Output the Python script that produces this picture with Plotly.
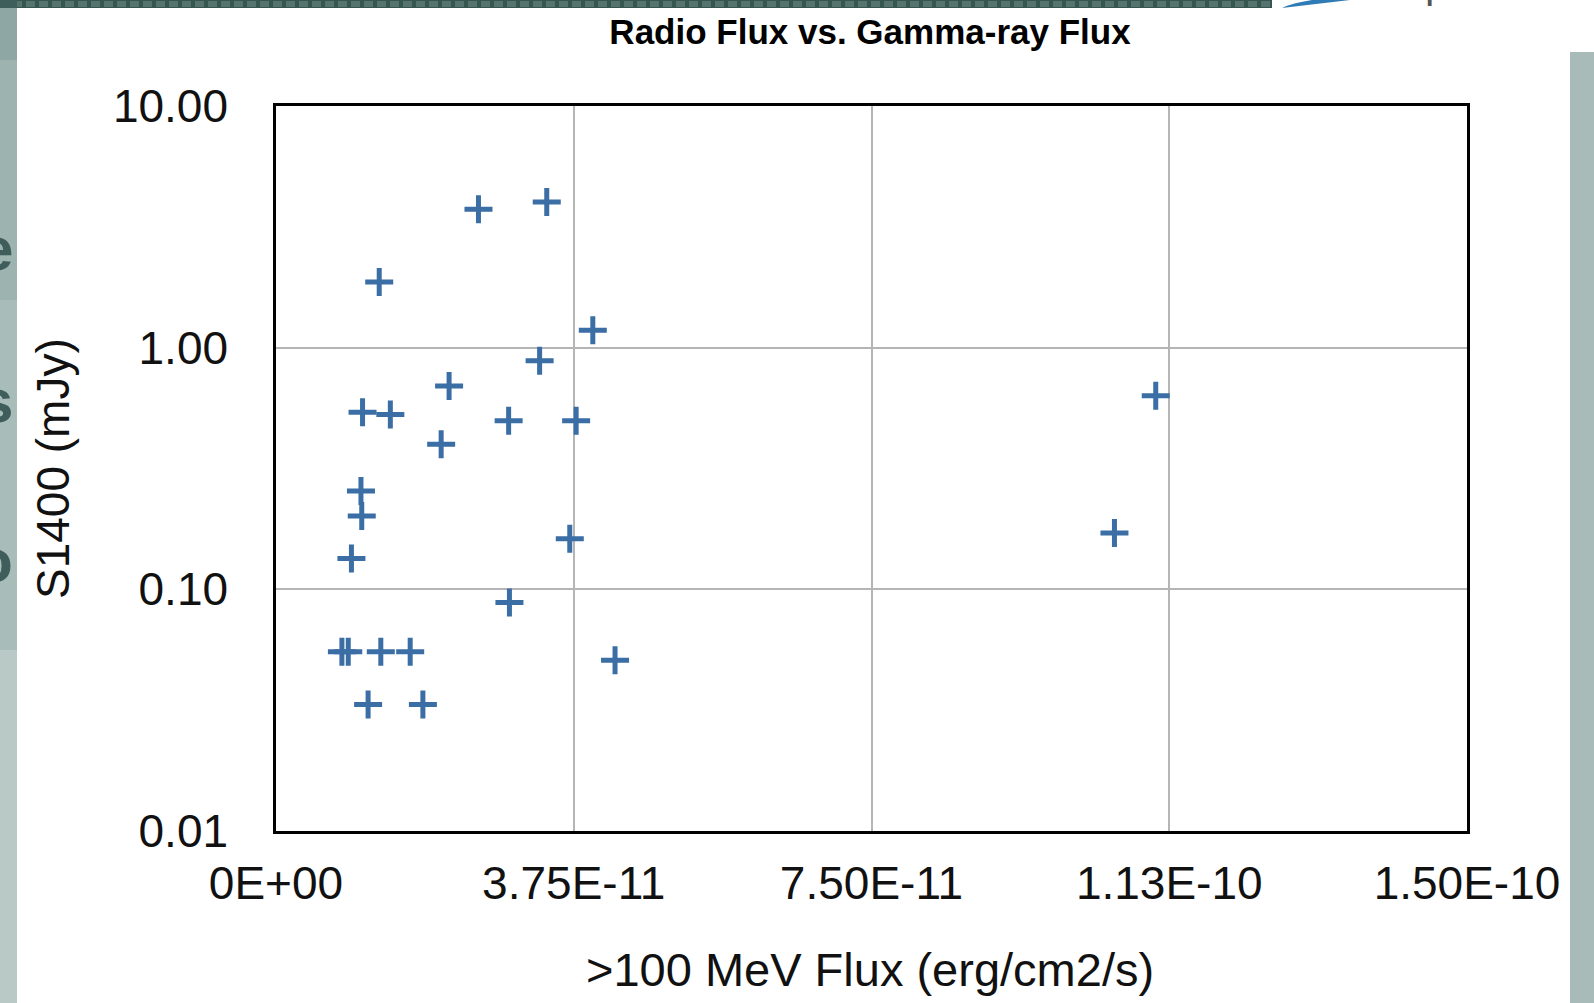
import plotly.graph_objects as go

# Gamma-ray flux above 100 MeV (erg/cm2/s) and 1.4 GHz radio flux density (mJy)
gamma_flux = [
    2.55e-11, 3.41e-11, 1.30e-11, 3.99e-11, 3.32e-11,
    2.18e-11, 1.09e-11, 1.44e-11, 2.93e-11, 3.78e-11,
    2.08e-11, 1.108e-10, 1.07e-11, 1.08e-11, 9.5e-12,
    3.70e-11, 1.056e-10, 2.94e-11, 8.3e-12, 9.1e-12,
    1.32e-11, 1.69e-11, 4.27e-11, 1.16e-11, 1.85e-11,
]
s1400 = [
    3.74, 4.01, 1.87, 1.18, 0.882,
    0.694, 0.541, 0.529, 0.498, 0.498,
    0.398, 0.633, 0.255, 0.201, 0.134,
    0.162, 0.171, 0.0882, 0.0552, 0.0552,
    0.0552, 0.0552, 0.0509, 0.0334, 0.0334,
]

x_tickvals = [0, 3.75e-11, 7.5e-11, 1.125e-10, 1.5e-10]
x_ticktext = ["0E+00", "3.75E-11", "7.50E-11", "1.13E-10", "1.50E-10"]
y_tickvals = [0.01, 0.1, 1, 10]
y_ticktext = ["0.01", "0.10", "1.00", "10.00"]

W, H = 1594, 1003
ML, MR, MT, MB = 276, 127, 106, 172
PW, PH = W - ML - MR, H - MT - MB
FONT = "Liberation Sans, Arial, Helvetica, sans-serif"


def px(xp):
    return (xp - ML) / PW


def py(yp):
    return (H - MB - yp) / PH


fig = go.Figure()
fig.add_trace(go.Scatter(
    x=gamma_flux, y=s1400, mode="markers",
    marker=dict(symbol="cross-thin", size=20, color="#3b6ea5",
                line=dict(width=5, color="#3b6ea5")),
    hoverinfo="skip", showlegend=False,
))

shapes = []
# slide frame around the chart: top band, left and right side panels
shapes.append(dict(type="rect", xref="paper", yref="paper", layer="below",
                   x0=px(0), x1=px(1272), y0=py(0), y1=py(8),
                   fillcolor="#35554f", line_width=0))
shapes.append(dict(type="line", xref="paper", yref="paper", layer="below",
                   x0=px(0), x1=px(1272), y0=py(4), y1=py(4),
                   line=dict(color="#56736f", width=6, dash="9px,4px")))
shapes.append(dict(type="path", xref="paper", yref="paper", layer="below",
                   path=(f"M {px(1282)} {py(8)} L {px(1350)} {py(0)} "
                         f"L {px(1312)} {py(0)} Q {px(1292)} {py(3)} {px(1282)} {py(8)} Z"),
                   fillcolor="#2f7bb5", line_width=0))
for y0, y1, col in [(0, 8, "#3e5e5b"), (8, 60, "#8ea7a4"), (60, 300, "#9db3b0"),
                    (300, 650, "#a8bcb9"), (650, 1003, "#b9c9c6")]:
    shapes.append(dict(type="rect", xref="paper", yref="paper", layer="below",
                       x0=px(0), x1=px(17), y0=py(y0), y1=py(y1),
                       fillcolor=col, line_width=0))
shapes.append(dict(type="rect", xref="paper", yref="paper", layer="below",
                   x0=px(1570), x1=px(1594), y0=py(52), y1=py(1003),
                   fillcolor="#a8bbb8", line_width=0))

annotations = [
    dict(text="S1400 (mJy)", textangle=-90, xref="paper", yref="paper",
         x=px(53), y=py(469), xanchor="center", yanchor="middle", showarrow=False,
         font=dict(family=FONT, size=46, color="#111111")),
    dict(text=">100 MeV Flux (erg/cm2/s)", xref="paper", yref="paper",
         x=px(870), y=py(970), xanchor="center", yanchor="middle", showarrow=False,
         font=dict(family=FONT, size=47, color="#111111")),
    dict(text="Space Tel", xref="paper", yref="paper", x=px(1395), y=py(8),
         xanchor="left", yanchor="bottom", showarrow=False,
         font=dict(family=FONT, size=42, color="#555555")),
]
for ch, yc in [("e", 249), ("s", 400), ("o", 560)]:
    annotations.append(dict(text=f"<b>{ch}</b>", xref="paper", yref="paper",
                            x=px(15), y=py(yc), xanchor="right", yanchor="middle",
                            showarrow=False,
                            font=dict(family=FONT, size=62, color="#3f5d5b")))

fig.update_layout(
    width=W, height=H,
    margin=dict(l=ML, r=MR, t=MT, b=MB, pad=0),
    paper_bgcolor="white", plot_bgcolor="white",
    font=dict(family=FONT, color="#111111"),
    title=dict(text="Radio Flux vs. Gamma-ray Flux", x=px(870), xref="paper",
               xanchor="center", y=1 - 31.5 / H, yanchor="middle",
               font=dict(family=FONT, size=35, color="#000000", weight=700)),
    shapes=shapes, annotations=annotations,
    xaxis=dict(range=[0, 1.5e-10], tickvals=x_tickvals, ticktext=x_ticktext,
               showgrid=True, gridcolor="#b5b5b5", gridwidth=2,
               showline=True, linecolor="#000000", linewidth=2.5, mirror=True,
               zeroline=False, ticks="", ticklabelstandoff=10,
               tickfont=dict(family=FONT, size=46, color="#111111")),
    yaxis=dict(type="log", range=[-2, 1], tickvals=y_tickvals, ticktext=y_ticktext,
               showgrid=True, gridcolor="#b5b5b5", gridwidth=2,
               showline=True, linecolor="#000000", linewidth=2.5, mirror=True,
               zeroline=False, ticks="", ticklabelstandoff=36,
               tickfont=dict(family=FONT, size=46, color="#111111")),
)

fig.write_html("out.html")
